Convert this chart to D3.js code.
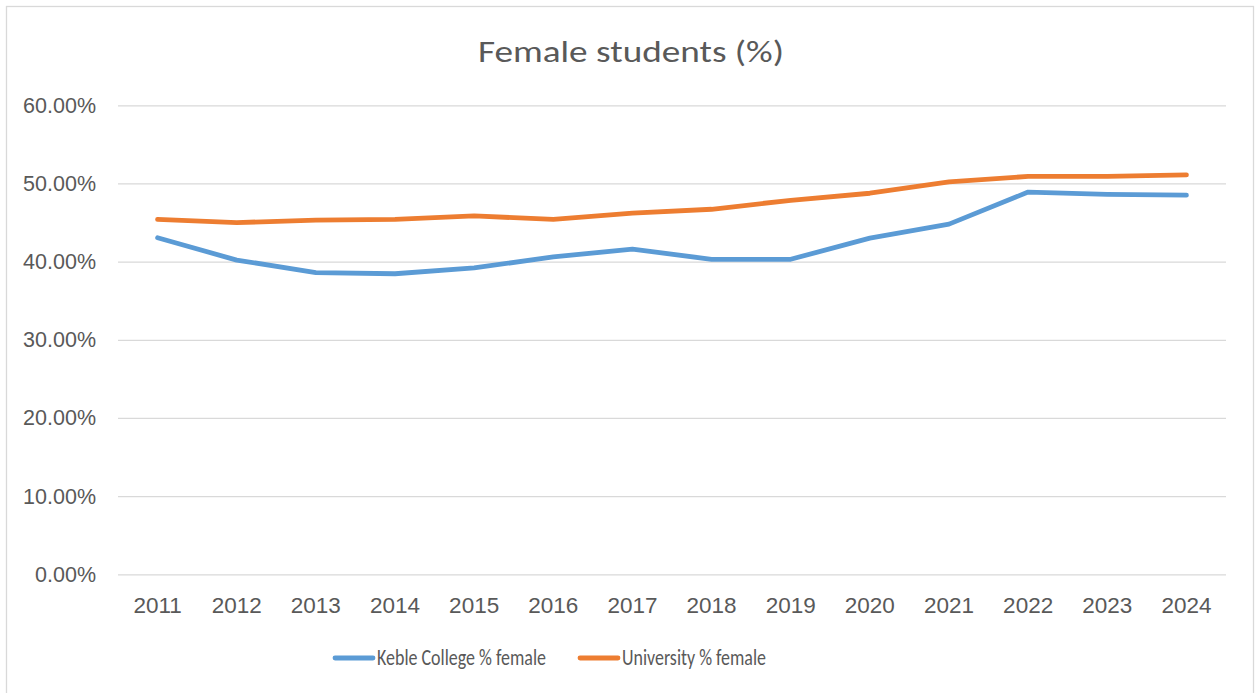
<!DOCTYPE html>
<html><head><meta charset="utf-8">
<script src="https://cdn.jsdelivr.net/npm/d3@7/dist/d3.min.js"></script>
<style>
body{margin:0;background:#fff;}
svg{display:block;font-family:Carlito,Lato,"Open Sans",sans-serif;}
</style></head>
<body>
<svg id="chart" width="1257" height="693"></svg>
<script>
const years = ["2011","2012","2013","2014","2015","2016","2017","2018","2019","2020","2021","2022","2023","2024"];
const keble = [43.05,40.2,38.6,38.45,39.2,40.6,41.6,40.3,40.3,43.0,44.8,48.9,48.6,48.5];
const university = [45.4,45.0,45.3,45.4,45.85,45.4,46.2,46.7,47.85,48.75,50.2,50.9,50.9,51.1];
const yTicks = [0,10,20,30,40,50,60];
const seriesNames = ["Keble College % female","University % female"];
const colors = ["#5B9BD5","#ED7D31"];

const svg = d3.select("#chart");
svg.append("rect").attr("x",6.5).attr("y",6.5).attr("width",1247).attr("height",700)
  .attr("fill","#fff").attr("stroke","#D9D9D9").attr("stroke-width",1.3);

const x = d3.scaleBand().domain(years).range([118,1226]);
const y = d3.scaleLinear().domain([0,60]).range([574.3,105.3]);

const yAxis = d3.axisLeft(y).tickValues(yTicks).tickSize(-(1226-118)).tickFormat(d=>d.toFixed(2)+"%").tickPadding(22);
const gy = svg.append("g").attr("transform","translate(118,0)").call(yAxis);
gy.select(".domain").remove();
gy.selectAll(".tick line").attr("stroke","#D9D9D9").attr("stroke-width",1.3);
gy.selectAll(".tick text").attr("fill","#595959").style("font-size","21.5px");

const xAxis = d3.axisBottom(x).tickSize(0).tickPadding(23);
const gx = svg.append("g").attr("transform","translate(0,574.3)").call(xAxis);
gx.select(".domain").remove();
gx.selectAll(".tick text").attr("fill","#595959").style("font-size","22.5px");

const line = d3.line().x((d,i)=>x(years[i])+x.bandwidth()/2).y(d=>y(d));
[keble,university].forEach((s,k)=>{
  svg.append("path").datum(s).attr("d",line).attr("fill","none")
    .attr("stroke",colors[k]).attr("stroke-width",4.8)
    .attr("stroke-linejoin","round").attr("stroke-linecap","round");
});

svg.append("text").attr("x",631).attr("y",62).attr("text-anchor","middle")
  .attr("fill","#595959").style("font-size","31px")
  .attr("textLength",306).attr("lengthAdjust","spacingAndGlyphs").text("Female students (%)");

// legend
const legX = [335,580];
const legW = [169,144];
seriesNames.forEach((n,k)=>{
  svg.append("line").attr("x1",legX[k]).attr("x2",legX[k]+38).attr("y1",658).attr("y2",658)
    .attr("stroke",colors[k]).attr("stroke-width",4.8).attr("stroke-linecap","round");
  svg.append("text").attr("x",legX[k]+42).attr("y",665).attr("fill","#595959")
    .style("font-size","22px").attr("textLength",legW[k]).attr("lengthAdjust","spacingAndGlyphs").text(n);
});
</script>
</body></html>
